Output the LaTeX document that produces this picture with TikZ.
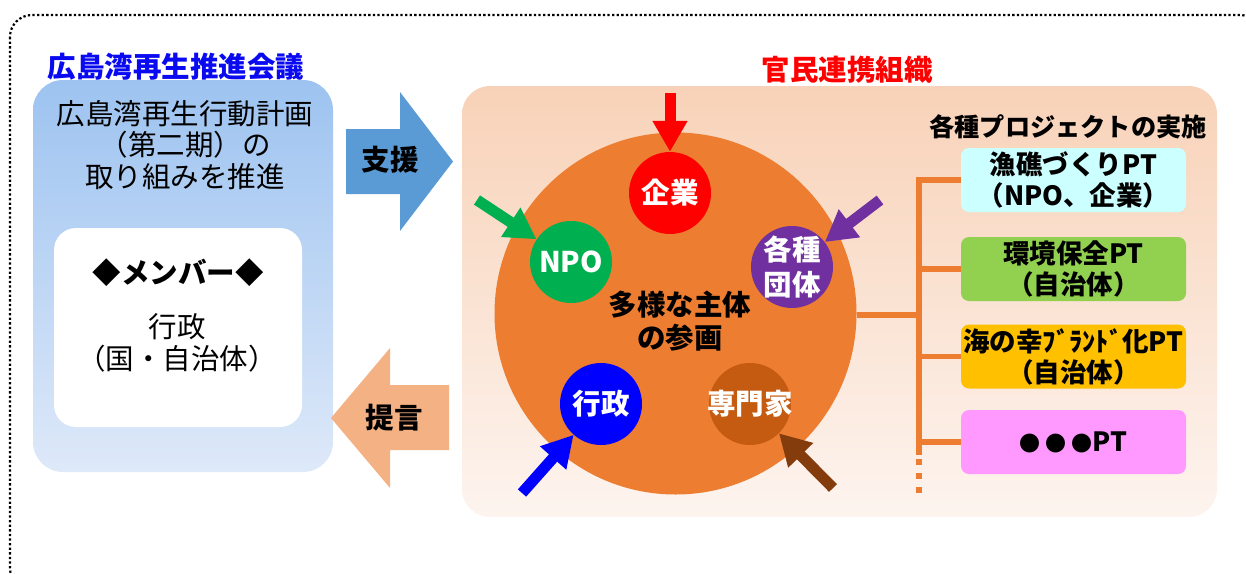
\documentclass[tikz,border=0pt]{standalone}
\usepackage{fontspec}
\setmainfont{Noto Sans CJK JP}
\usetikzlibrary{arrows.meta}
\definecolor{titleblue}{RGB}{10,10,240}
\definecolor{titlered}{RGB}{255,0,0}
\definecolor{bluetop}{RGB}{157,195,240}
\definecolor{bluebot}{RGB}{222,233,249}
\definecolor{orgtop}{RGB}{248,210,184}
\definecolor{orgmid}{RGB}{244,193,158}
\definecolor{orgbot}{RGB}{253,244,239}
\definecolor{supportblue}{RGB}{91,155,213}
\definecolor{proposalorange}{RGB}{244,177,131}
\definecolor{bigorange}{RGB}{237,125,49}
\definecolor{npogreen}{RGB}{0,176,80}
\definecolor{grppurple}{RGB}{112,48,160}
\definecolor{govblue}{RGB}{0,0,255}
\definecolor{expbrown}{RGB}{197,90,17}
\definecolor{darkbrown}{RGB}{132,60,12}
\definecolor{ptcyan}{RGB}{204,255,255}
\definecolor{ptgreen}{RGB}{146,208,80}
\definecolor{ptyellow}{RGB}{255,192,0}
\definecolor{ptpink}{RGB}{255,153,255}
\newcommand{\bigdot}{{\fontsize{21}{21}\selectfont ●}}
\begin{document}
\begin{tikzpicture}[x=1pt,y=-1pt,
  regtext/.style={font=\fontsize{28.5}{31.5}\selectfont, align=center, inner sep=0},
  boldtext/.style={font=\bfseries\fontsize{28.5}{33}\selectfont, align=center, inner sep=0},
  actor/.style={circle, minimum size=82, inner sep=0},
  feed/.style={line width=11, -{Triangle[width=33pt,length=31pt]}},
  ptbox/.style={rounded corners=8, minimum width=225, minimum height=64, inner sep=0,
                font=\bfseries\fontsize{26.5}{31}\selectfont, align=center},
  treeline/.style={draw=bigorange, line width=5.5}
]
\useasboundingbox (0,0) rectangle (1246,573);
% outer dotted frame
\draw[line width=2.2, dash pattern=on 2.3pt off 2.3pt, rounded corners=22] (10,15) rectangle (1262,590);

% left council box
\node[rounded corners=30, minimum width=300, minimum height=392, inner sep=0,
      top color=bluetop, bottom color=bluebot] (council) at (183,276) {};
\node[boldtext, text=titleblue] (counciltitle) at (176,67) {広島湾再生推進会議};
\node[regtext] (plan) at (185,145) {広島湾再生行動計画\\（第二期）の\\取り組みを推進};
\node[fill=white, rounded corners=22, minimum width=248, minimum height=199, inner sep=0] (members) at (178,327.5) {};
\node[boldtext] (membertitle) at (178,273) {◆メンバー◆};
\node[regtext] (memberlist) at (177,343) {行政\\（国・自治体）};

% support / proposal arrows
\fill[supportblue] (346,129) -- (400,129) -- (400,92) -- (453,161.5) -- (400,231) -- (400,194) -- (346,194) -- cycle;
\node[boldtext] (support) at (390,160) {支援};
\fill[proposalorange] (331,418) -- (390,348) -- (390,385) -- (449,385) -- (449,450) -- (390,450) -- (390,488) -- cycle;
\node[boldtext] (proposal) at (394,418) {提言};

% right organisation box
\node[rounded corners=28, minimum width=755, minimum height=431, inner sep=0,
      top color=orgtop, middle color=orgmid, bottom color=orgbot] (org) at (839.5,301.5) {};
\node[boldtext, text=titlered] (orgtitle) at (847,70) {官民連携組織};

% big circle
\node[circle, fill=bigorange, minimum size=362, inner sep=0] (big) at (675.5,313.5) {};
\node[boldtext] (centertext) at (680,321) {多様な主体\\の参画};

% actor circles
\node[actor, fill=titlered, label={[boldtext, text=white]center:企業}] (corp) at (670,193) {};
\node[actor, fill=npogreen, label={[boldtext, text=white]center:NPO}] (npo) at (571,262) {};
\node[actor, fill=grppurple, label={[boldtext, text=white, font=\bfseries\fontsize{28.5}{35}\selectfont]center:各種\\団体}] (groups) at (792,267) {};
\node[actor, fill=govblue, label={[boldtext, text=white]center:行政}] (gov) at (601,404) {};
\node[actor, fill=expbrown, label={[boldtext, text=white]center:専門家}] (expert) at (750,404) {};

% incoming arrows
\coordinate (corpin) at (670,93);
\coordinate (npoin) at (477,200);
\coordinate (groupsin) at (880,200);
\coordinate (govin) at (522,493);
\coordinate (expertin) at (833,488);
\draw[feed, draw=titlered, fill=titlered] (corpin) -- (corp);
\draw[feed, draw=npogreen, fill=npogreen] (npoin) -- (npo);
\draw[feed, draw=grppurple, fill=grppurple] (groupsin) -- (groups);
\draw[feed, draw=govblue, fill=govblue] (govin) -- (gov);
\draw[feed, draw=darkbrown, fill=darkbrown] (expertin) -- (expert);

% projects
\node[font=\bfseries\fontsize{25.2}{28}\selectfont, inner sep=0] (projtitle) at (1068,127) {各種プロジェクトの実施};
\node[ptbox, fill=ptcyan] (pt1) at (1073.5,180) {漁礁づくりPT\\（NPO、企業）};
\node[ptbox, fill=ptgreen] (pt2) at (1073.5,269) {環境保全PT\\（自治体）};
\node[ptbox, fill=ptyellow] (pt3) at (1073.5,356.5) {海の幸ﾌﾞﾗﾝﾄﾞ化PT\\（自治体）};
\node[ptbox, fill=ptpink] (pt4) at (1073.5,442) {\bigdot\hspace{5pt}\bigdot\hspace{5pt}\bigdot PT};

% tree connector
\coordinate (trunktop) at (919,177);
\coordinate (trunkend) at (919,455);
\coordinate (trunkdots) at (919,500);
\coordinate (trunkmid) at (919,315);
\draw[treeline] (big.east |- trunkmid) -- (trunkmid);
\draw[treeline] (trunktop) -- (trunkend);
\draw[treeline, dash pattern=on 6pt off 8pt] (trunkend) ++(0,4) -- (trunkdots);
\draw[treeline] (pt1.west -| trunktop) -- (pt1.west);
\draw[treeline] (pt2.west -| trunktop) -- (pt2.west);
\draw[treeline] (pt3.west -| trunktop) -- (pt3.west);
\draw[treeline] (pt4.west -| trunktop) -- (pt4.west);
\end{tikzpicture}
\end{document}
